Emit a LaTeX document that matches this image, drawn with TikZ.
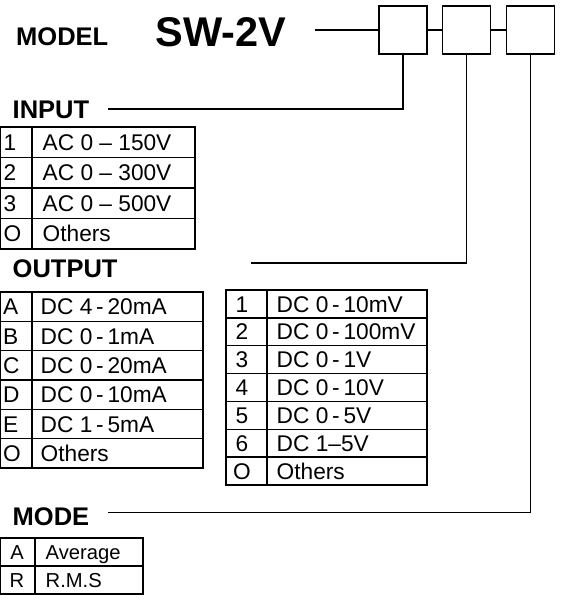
\documentclass[tikz,border=0pt]{standalone}
\usepackage{fontspec}
\setmainfont{Liberation Sans}
\begin{document}
\begin{tikzpicture}[x=1pt,y=-1pt,line width=1.4pt,
  hd/.style={font=\bfseries\fontsize{25.5}{26}\selectfont,anchor=base west,inner sep=0pt},
  cell/.style={anchor=west,inner sep=0pt,text height=16.3pt,text depth=0pt,font=\fontsize{22.7}{23}\selectfont},
  ccell/.style={anchor=center,inner sep=0pt,text height=16.3pt,text depth=0pt,font=\fontsize{22.7}{23}\selectfont},
  mcell/.style={anchor=west,inner sep=0pt,text height=14.5pt,text depth=0pt,font=\fontsize{20.2}{20}\selectfont},
  mccell/.style={anchor=center,inner sep=0pt,text height=14.5pt,text depth=0pt,font=\fontsize{20.2}{20}\selectfont},
  codebox/.style={draw,minimum width=48pt,minimum height=47.5pt,inner sep=0pt,line width=1.6pt},
  tab/.style={line width=1.3pt}]
\useasboundingbox (0,0) rectangle (564,595);
% model line
\node[hd] (model) at (15.5,45) {MODEL};
\node[font=\bfseries\fontsize{41.5}{42}\selectfont,anchor=base west,inner sep=0pt] (sw) at (155,46.5) {SW-2V};
\node[codebox] (b1) at (403,30) {};
\node[codebox] (b2) at (466.5,30) {};
\node[codebox] (b3) at (530.5,30) {};
\coordinate (mstart) at (315,30);
\draw (mstart) -- (b1.west);
\draw (b1.east) -- (b2.west);
\draw (b2.east) -- (b3.west);
% headings and leaders
\node[hd] (input) at (12,118) {INPUT};
\coordinate (inend) at (108,109);
\draw (b1.south) |- (inend);
\node[hd] (output) at (12,277) {OUTPUT};
\coordinate (outend) at (251,263);
\draw (b2.south) |- (outend);
\node[hd] (mode) at (12,525) {MODE};
\coordinate (modeend) at (108,512.5);
\draw (b3.south) |- (modeend);
% input table
\draw[tab] (0.75,127) rectangle (195,249);
\draw[tab] (32,127) -- (32,249);
\foreach \i in {1,2,3} \draw[tab] (0.75,{127+30.5*\i}) -- (195,{127+30.5*\i});
\foreach \k/\t [count=\n from 0] in {1/AC 0 -- 150V,2/AC 0 -- 300V,3/AC 0 -- 500V,O/Others}{
  \node[cell] (ink\n) at (3,{127+30.5*\n+15.25}) {\k};
  \node[cell] (inv\n) at (42,{127+30.5*\n+15.25}) {\t};
}
% output table 1
\draw[tab] (0.75,292) rectangle (203,468);
\draw[tab] (32,292) -- (32,468);
\foreach \i in {1,...,5} \draw[tab] (0.75,{292+29.333*\i}) -- (203,{292+29.333*\i});
\foreach \k/\t [count=\n from 0] in {A/DC 4\,-\,20mA,B/DC 0\,-\,1mA,C/DC 0\,-\,20mA,D/DC 0\,-\,10mA,E/DC 1\,-\,5mA,O/Others}{
  \node[cell] (oak\n) at (2.5,{292+29.333*\n+14.67}) {\k};
  \node[cell] (oav\n) at (40,{292+29.333*\n+14.67}) {\t};
}
% output table 2
\draw[tab] (226,290) rectangle (427,485);
\draw[tab] (267,290) -- (267,485);
\foreach \i in {1,...,6} \draw[tab] (226,{290+27.857*\i}) -- (427,{290+27.857*\i});
\foreach \k/\t [count=\n from 0] in {1/DC 0\,-\,10mV,2/DC 0\,-\,100mV,3/DC 0\,-\,1V,4/DC 0\,-\,10V,5/DC 0\,-\,5V,6/DC 1--5V,O/Others}{
  \node[ccell] (obk\n) at (242,{290+27.857*\n+13.93}) {\k};
  \node[cell] (obv\n) at (276,{290+27.857*\n+13.93}) {\t};
}
% mode table
\draw[tab] (0.75,538) rectangle (143,594);
\draw[tab] (35,538) -- (35,594);
\draw[tab] (0.75,566) -- (143,566);
\foreach \k/\t [count=\n from 0] in {A/Average,R/R.M.S}{
  \node[mccell] (mdk\n) at (17,{538+28*\n+14}) {\k};
  \node[mcell] (mdv\n) at (45,{538+28*\n+14}) {\t};
}
\end{tikzpicture}
\end{document}
